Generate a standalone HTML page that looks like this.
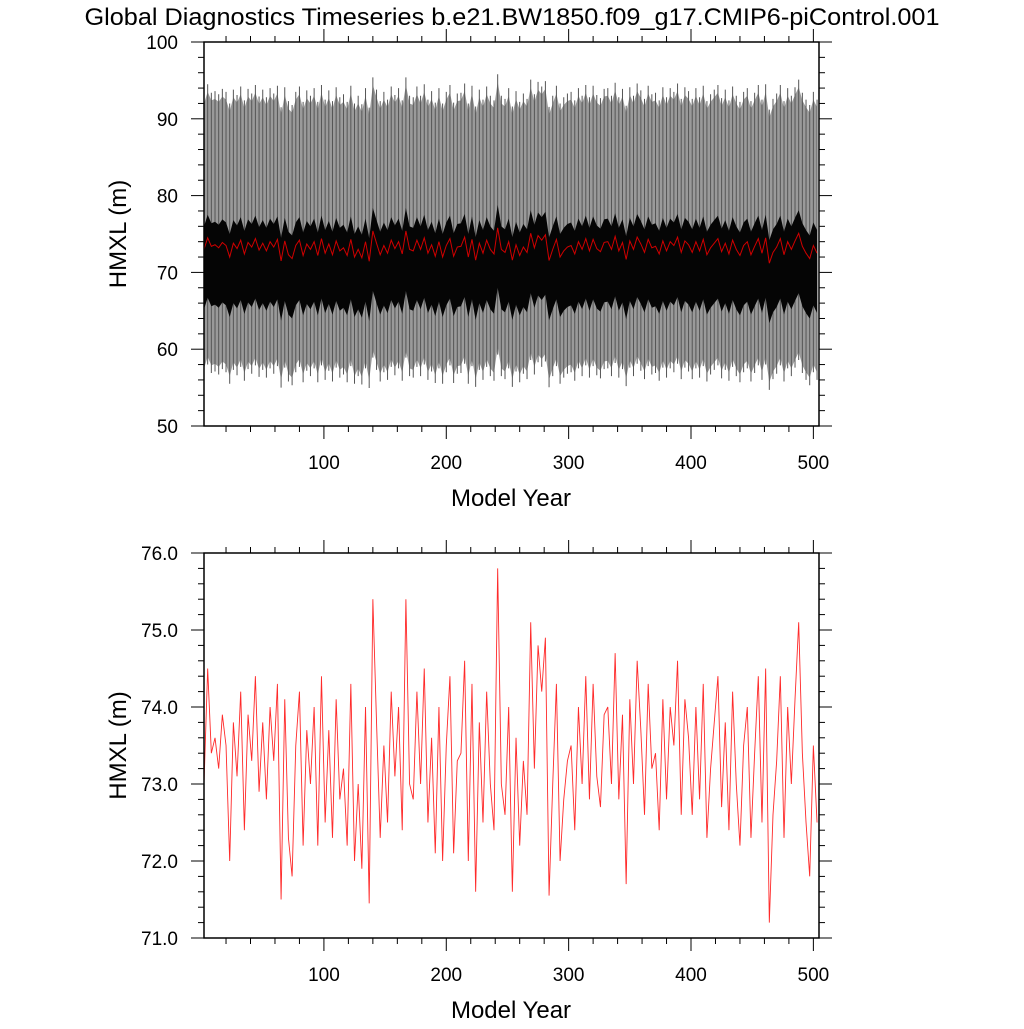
<!DOCTYPE html>
<html><head><meta charset="utf-8"><style>
html,body{margin:0;padding:0;background:#fff;}
svg text{font-family:"Liberation Sans",sans-serif;fill:#000;}
</style></head><body>
<svg id="chart" width="1024" height="1024" viewBox="0 0 1024 1024" xmlns="http://www.w3.org/2000/svg">
<text x="512" y="25" font-size="24" text-anchor="middle" textLength="855" lengthAdjust="spacingAndGlyphs">Global Diagnostics Timeseries b.e21.BW1850.f09_g17.CMIP6-piControl.001</text>
<g id="top"></g>
<g id="bot"></g>
</svg>
<script>
const startYear = 2;
const stepYears = 3;
const annualMean = [
73.0,74.5,73.4,73.6,73.2,73.9,73.5,72.0,73.8,73.1,
74.2,72.4,73.9,73.3,74.4,72.9,73.8,72.8,74.0,73.3,
74.3,71.5,74.1,72.3,71.8,73.5,74.2,72.2,73.7,73.0,
74.0,72.2,74.4,72.5,73.7,72.3,74.1,72.8,73.2,72.2,
74.3,72.0,73.0,71.9,74.0,71.45,75.4,73.8,72.3,73.5,
72.5,74.2,73.1,74.0,72.4,75.4,73.0,72.8,74.2,73.0,
74.5,72.5,73.6,72.1,74.0,72.0,73.5,74.4,72.1,73.3,
73.4,74.6,72.0,74.3,71.6,73.8,72.5,74.2,73.0,72.4,
75.8,73.0,72.6,74.0,71.6,73.6,72.2,73.3,72.6,75.1,
73.2,74.8,74.2,74.9,71.55,73.0,74.3,72.0,72.8,73.3,
73.5,72.4,74.0,73.0,74.4,72.8,74.3,73.1,72.7,73.9,
74.0,73.0,74.7,72.8,73.9,71.7,74.1,73.0,74.6,73.7,
72.6,74.3,73.2,73.4,72.4,74.1,72.8,74.0,73.5,74.6,
72.6,74.1,73.6,72.6,74.0,72.8,74.3,72.3,73.2,73.8,
74.4,72.7,73.8,72.4,74.2,73.0,72.2,73.5,74.0,72.3,
73.4,74.4,72.5,74.5,71.2,72.6,73.3,74.4,72.3,74.0,
73.0,74.1,75.1,73.4,72.5,71.8,73.5,72.5];
const seasonalHigh = 19.0;
const seasonalLow = 15.5;
const coreHigh = 3.0, coreLow = 7.8;
const topTicks = [50,60,70,80,90,100];
const botTicks = [71.0,72.0,73.0,74.0,75.0,76.0];
const xTicks = [100,200,300,400,500];

const NS = "http://www.w3.org/2000/svg";
const L = 204, R = 819;
const xMin = 2, xMax = 504.6;
const xs = v => L + (v - xMin) / (xMax - xMin) * (R - L);
function mk(parent, tag, attrs){const e=document.createElementNS(NS,tag);for(const k in attrs)e.setAttribute(k,attrs[k]);parent.appendChild(e);return e;}
const years = annualMean.map((v,i)=>startYear+i*stepYears);

function axes(g, T, B, yMin, yMax, ticks, minorStep, fmt, ysc){
  const ln = (x1,y1,x2,y2,w)=>mk(g,'line',{x1,y1,x2,y2,stroke:'#000','stroke-width':w});
  for(let v=yMin; v<=yMax+1e-6; v+=minorStep){
    const y=ysc(v); const maj=ticks.some(t=>Math.abs(t-v)<1e-6); const len=maj?13:6;
    const t1=ln(L-len,y,L,y,1);
     
    const t2=ln(R,y,R+len,y,1);
     
  }
  for(let v=20; v<=xMax; v+=20){
    const x=xs(v); const maj=v%100===0; const len=maj?13:6;
    const t1=ln(x,B,x,B+len,1);
     
    const t2=ln(x,T-len,x,T,1);
     
  }
  const fr=mk(g,'rect',{x:L,y:T,width:R-L,height:B-T,fill:'none',stroke:'#000','stroke-width':1.5});
   
  ticks.forEach(t=>{const e=mk(g,'text',{x:L-26,y:ysc(t)+7,'font-size':19,'text-anchor':'end'});e.textContent=fmt(t);
     });
  xTicks.forEach(t=>{const e=mk(g,'text',{x:xs(t),y:B+43,'font-size':19,'text-anchor':'middle'});e.textContent=String(t);
     });
  const xt=mk(g,'text',{x:511,y:B+80,'font-size':24,'text-anchor':'middle'});xt.textContent='Model Year';
   
  const cy=(T+B)/2; const yt=mk(g,'text',{x:0,y:0,'font-size':24,'text-anchor':'middle',transform:`translate(126,${cy}) rotate(-90)`});yt.textContent='HMXL (m)';
   
}

(function(){
  const g=document.getElementById('top'); const T=42,B=426;
  const ys=v=>B-(v-50)/(100-50)*(B-T);
  const clip=mk(g,'clipPath',{id:'c1'}); mk(clip,'rect',{x:L,y:T,width:R-L,height:B-T});
  const dg=mk(g,'g',{'clip-path':'url(#c1)'});
  let up=years.map((y,i)=>`${xs(y)},${ys(annualMean[i]+seasonalHigh)}`);
  let lo=years.map((y,i)=>`${xs(y)},${ys(annualMean[i]-seasonalLow)}`).reverse();
  const env=mk(dg,'polygon',{points:up.concat(lo).join(' '),fill:'#9a9a9a'});
   
  years.forEach((y,i)=>{
    const e=mk(dg,'line',{x1:xs(y),x2:xs(y),y1:ys(annualMean[i]+seasonalHigh+1),y2:ys(annualMean[i]-seasonalLow-1),stroke:'#555','stroke-width':1});
     
  });
  let cu=years.map((y,i)=>`${xs(y)},${ys(annualMean[i]+coreHigh)}`);
  let cl=years.map((y,i)=>`${xs(y)},${ys(annualMean[i]-coreLow)}`).reverse();
  const core=mk(dg,'polygon',{points:cu.concat(cl).join(' '),fill:'#050505'});
   
  const pl=mk(dg,'polyline',{points:years.map((y,i)=>`${xs(y)},${ys(annualMean[i])}`).join(' '),fill:'none',stroke:'#d00000','stroke-width':1});
   
  axes(g,T,B,50,100,topTicks,2,t=>String(t),ys);
})();

(function(){
  const g=document.getElementById('bot'); const T=553,B=938;
  const ys=v=>B-(v-71)/(76-71)*(B-T);
  const pl=mk(g,'polyline',{points:years.map((y,i)=>`${xs(y)},${ys(annualMean[i])}`).join(' '),fill:'none',stroke:'#ff2a2a','stroke-width':0.9});
   
  axes(g,T,B,71,76,botTicks,0.2,t=>t.toFixed(1),ys);
})();
</script>
</body></html>
